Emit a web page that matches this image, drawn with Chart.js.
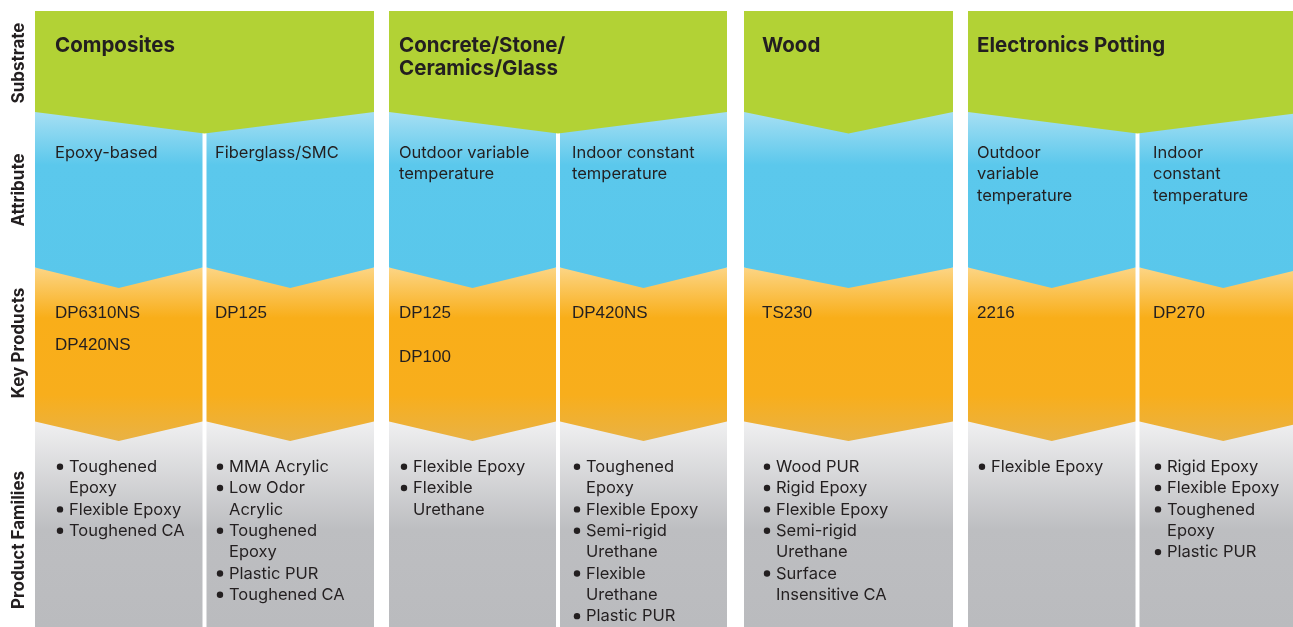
<!DOCTYPE html>
<html>
<head>
<meta charset="utf-8">
<script src="https://cdn.jsdelivr.net/npm/chart.js@4.4.0/dist/chart.umd.min.js"></script>
<style>
    html, body { margin: 0; padding: 0; background: #fff; }
    #quadro { width: 1293px; height: 627px; }
</style>
</head>
<body>
<div id="quadro"><canvas id="grafico-substratos"></canvas></div>
<script>
// Dados do quadro
const rowLabels = ["Substrate", "Attribute", "Key Products", "Product Families"]

// um por coluna grande
const substrates = [["Composites"], ["Concrete/Stone/", "Ceramics/Glass"], ["Wood"], ["Electronics Potting"]]

// um por subcoluna
const attributes = [
    ["Epoxy-based"],
    ["Fiberglass/SMC"],
    ["Outdoor variable", "temperature"],
    ["Indoor constant", "temperature"],
    [],
    ["Outdoor", "variable", "temperature"],
    ["Indoor", "constant", "temperature"]
]

const keyProducts = [["DP6310NS", "DP420NS"], ["DP125"], ["DP125", "DP100"], ["DP420NS"], ["TS230"], ["2216"], ["DP270"]]

// cada familia quebrada em linhas
const productFamilies = [
    [["Toughened", "Epoxy"], ["Flexible Epoxy"], ["Toughened CA"]],
    [["MMA Acrylic"], ["Low Odor", "Acrylic"], ["Toughened", "Epoxy"], ["Plastic PUR"], ["Toughened CA"]],
    [["Flexible Epoxy"], ["Flexible", "Urethane"]],
    [["Toughened", "Epoxy"], ["Flexible Epoxy"], ["Semi-rigid", "Urethane"], ["Flexible", "Urethane"], ["Plastic PUR"]],
    [["Wood PUR"], ["Rigid Epoxy"], ["Flexible Epoxy"], ["Semi-rigid", "Urethane"], ["Surface", "Insensitive CA"]],
    [["Flexible Epoxy"]],
    [["Rigid Epoxy"], ["Flexible Epoxy"], ["Toughened", "Epoxy"], ["Plastic PUR"]]
]

// Layout (unidades da escala = quadro de 1293 x 627)
const colunas = [[35, 374], [389, 727], [744, 953], [968, 1307]]
const subColunas = [[35, 202.5, 0], [206.5, 374, 0], [389, 556, 1], [560, 727, 1], [744, 953, 2], [968, 1135.5, 3], [1139.5, 1307, 3]]
const textoX = [55, 215, 399, 572, 762, 977, 1153]
const faixas = [11, 112, 267.5, 421.5, 627]
const pontas = [21.5, 20.5, 19.5]
const passoProdutos = [32, 32, 44, 32, 32, 32, 32]
const rotuloY = [63, 190, 343, 540]

const corTexto = "#231F20"
const corVerde = "#B2D235"
const paradasAzul = [[112, "#A6DFF3"], [165, "#5BC8EC"], [288, "#59C7EB"]]
const paradasLaranja = [[267.5, "#FCD585"], [318, "#F9AE19"], [395, "#F8AE1C"], [441, "#E9B244"]]
const paradasCinza = [[421.5, "#F0F0F1"], [530, "#BDBEC1"], [627, "#BABBBE"]]

function gradiente(chart, paradas) {
    const y = chart.scales.y
    const y0 = paradas[0][0]
    const y1 = paradas[paradas.length - 1][0]
    const p0 = y ? y.getPixelForValue(y0) : NaN
    const p1 = y ? y.getPixelForValue(y1) : NaN
    // escala ainda sem layout
    if (!Number.isFinite(p0) || !Number.isFinite(p1)) return paradas[1][1]
    const g = chart.ctx.createLinearGradient(0, p0, 0, p1)
    paradas.forEach(([v, cor]) => g.addColorStop((v - y0) / (y1 - y0), cor))
    return g
}

function poligono(pontos, order, cor) {
    return {
        data: pontos.map(([x, y]) => ({x, y})),
        showLine: true,
        fill: "shape",
        tension: 0,
        borderWidth: 0,
        pointRadius: 0,
        pointHoverRadius: 0,
        order,
        backgroundColor: cor
    }
}

let datasets = []

// cinza - familias
subColunas.forEach(([l, r]) => {
    datasets.push(poligono([[l, faixas[3]], [r, faixas[3]], [r, faixas[4]], [l, faixas[4]]], 4, ctx => gradiente(ctx.chart, paradasCinza)))
})
// laranja - produtos
subColunas.forEach(([l, r]) => {
    const c = (l + r) / 2
    datasets.push(poligono([[l, faixas[2]], [r, faixas[2]], [r, faixas[3]], [c, faixas[3] + pontas[2]], [l, faixas[3]]], 3, ctx => gradiente(ctx.chart, paradasLaranja)))
})
// azul - atributos
subColunas.forEach(([l, r]) => {
    const c = (l + r) / 2
    datasets.push(poligono([[l, faixas[1]], [r, faixas[1]], [r, faixas[2]], [c, faixas[2] + pontas[1]], [l, faixas[2]]], 2, ctx => gradiente(ctx.chart, paradasAzul)))
})
// verde - substrato
colunas.forEach(([l, r]) => {
    const c = (l + r) / 2
    datasets.push(poligono([[l, faixas[0]], [r, faixas[0]], [r, faixas[1]], [c, faixas[1] + pontas[0]], [l, faixas[1]]], 1, corVerde))
})

const plugTextos = {
    id: "textos",
    afterDatasetsDraw(chart) {
        const {ctx, scales: {x, y}} = chart
        ctx.save()
        ctx.fillStyle = corTexto

        // rotulos das linhas
        ctx.font = "bold 17px Inter"
        rowLabels.forEach((rotulo, i) => {
            ctx.save()
            ctx.translate(x.getPixelForValue(19), y.getPixelForValue(rotuloY[i]))
            ctx.rotate(-Math.PI / 2)
            ctx.textAlign = "center"
            ctx.textBaseline = "middle"
            ctx.fillText(rotulo, 0, 0)
            ctx.restore()
        })

        ctx.textAlign = "left"
        ctx.textBaseline = "alphabetic"

        // substratos
        ctx.font = "bold 20.5px Inter"
        substrates.forEach((linhas, i) => {
            const sub = subColunas.findIndex(s => s[2] === i)
            linhas.forEach((t, k) => ctx.fillText(t, x.getPixelForValue(textoX[sub]), y.getPixelForValue(52 + k * 23)))
        })

        // atributos
        ctx.font = "16.5px Inter"
        attributes.forEach((linhas, i) => {
            linhas.forEach((t, k) => ctx.fillText(t, x.getPixelForValue(textoX[i]), y.getPixelForValue(157.5 + k * 21.5)))
        })

        // produtos chave
        ctx.font = "17px 'Liberation Sans'"
        keyProducts.forEach((lista, i) => {
            lista.forEach((t, k) => ctx.fillText(t, x.getPixelForValue(textoX[i]), y.getPixelForValue(318.3 + k * passoProdutos[i])))
        })

        // familias
        ctx.font = "16.5px Inter"
        productFamilies.forEach((familias, i) => {
            let linha = 0
            familias.forEach(item => {
                const yb = 472 + linha * 21.35
                ctx.beginPath()
                ctx.arc(x.getPixelForValue(textoX[i] + 5), y.getPixelForValue(yb - 5.3), 3.2, 0, Math.PI * 2)
                ctx.fill()
                item.forEach(t => {
                    ctx.fillText(t, x.getPixelForValue(textoX[i] + 14), y.getPixelForValue(472 + linha * 21.35))
                    linha++
                })
            })
        })
        ctx.restore()
    }
}

let graficoSubstratos = new Chart(
    document.getElementById("grafico-substratos"),
    {
        type: "scatter",
        data: { datasets: datasets },
        options: {
            responsive: true,
            maintainAspectRatio: false,
            animation: false,
            events: [],
            layout: { padding: 0 },
            scales: {
                x: { type: "linear", min: 0, max: 1293, display: false },
                y: { type: "linear", min: 0, max: 627, reverse: true, display: false }
            },
            plugins: {
                legend: { display: false },
                tooltip: { enabled: false }
            }
        },
        plugins: [plugTextos]
    }
)
</script>
</body>
</html>
